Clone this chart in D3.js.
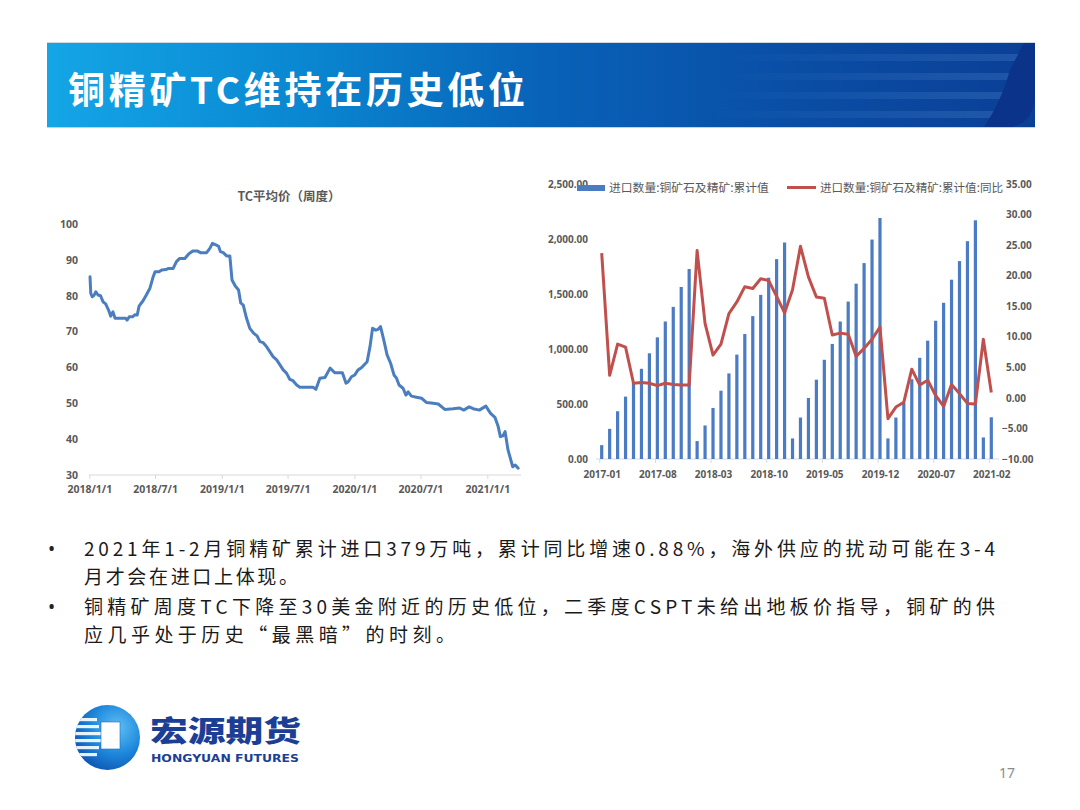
<!DOCTYPE html>
<html><head><meta charset="utf-8">
<script src="https://cdn.jsdelivr.net/npm/d3@7"></script>
<style>body{margin:0;background:#fff;} svg{display:block;}</style>
</head><body><svg id="c" width="1080" height="810"></svg>
<script>
// ---------------- DATA ----------------
const pageTitle = "铜精矿TC维持在历史低位";
const leftTitle = "TC平均价（周度）";
const tcDates = ["2018-01-03","2018-01-05","2018-01-09","2018-01-14","2018-01-19","2018-01-25","2018-02-01","2018-02-08","2018-02-15","2018-02-23","2018-03-01","2018-03-07","2018-03-13","2018-04-11","2018-04-15","2018-04-21","2018-04-30","2018-05-07","2018-05-13","2018-05-18","2018-05-29","2018-06-07","2018-06-17","2018-06-26","2018-07-01","2018-07-12","2018-07-20","2018-07-31","2018-08-07","2018-08-20","2018-08-29","2018-09-07","2018-09-21","2018-10-03","2018-10-14","2018-10-25","2018-11-03","2018-11-20","2018-11-29","2018-12-06","2018-12-17","2018-12-23","2018-12-28","2019-01-05","2019-01-14","2019-01-23","2019-01-29","2019-02-07","2019-02-16","2019-02-22","2019-03-01","2019-03-10","2019-03-19","2019-03-30","2019-04-08","2019-04-16","2019-04-25","2019-05-04","2019-05-13","2019-05-22","2019-06-01","2019-06-10","2019-06-19","2019-06-28","2019-07-07","2019-07-16","2019-07-26","2019-08-04","2019-09-09","2019-09-17","2019-09-28","2019-10-12","2019-10-26","2019-11-08","2019-11-29","2019-12-09","2019-12-15","2019-12-24","2020-01-02","2020-01-11","2020-01-21","2020-02-05","2020-02-13","2020-02-20","2020-02-29","2020-03-06","2020-03-13","2020-03-22","2020-03-31","2020-04-10","2020-04-19","2020-04-26","2020-05-03","2020-05-14","2020-05-22","2020-05-28","2020-06-06","2020-06-20","2020-07-04","2020-07-18","2020-08-05","2020-08-19","2020-09-06","2020-09-29","2020-10-17","2020-10-28","2020-11-12","2020-11-23","2020-12-10","2020-12-28","2021-01-10","2021-01-22","2021-01-31","2021-02-06","2021-02-13","2021-02-19","2021-02-27","2021-03-12","2021-03-19","2021-03-27"];
const tcValues = [85.3,80.7,79.7,80.1,81.1,80.2,80.0,78.3,77.7,76.0,74.3,75.5,73.7,73.7,73.2,74.1,74.1,74.7,74.6,77.1,78.6,80.2,82.1,85.3,86.7,86.7,87.2,87.3,87.6,87.6,89.5,90.4,90.4,91.8,92.5,92.5,92.0,92.0,93.2,94.6,94.1,93.8,92.3,92.0,91.1,91.1,84.4,82.7,81.6,78.0,77.4,73.7,70.9,69.5,68.8,67.2,66.9,65.8,64.4,63.0,62.1,60.7,59.3,58.4,56.7,56.3,55.1,54.5,54.5,53.9,57.0,57.2,59.8,58.5,58.5,55.6,56.0,57.4,57.9,59.3,60.0,61.6,65.8,70.9,70.4,70.6,71.4,67.6,63.5,61.1,57.9,57.0,55.1,54.2,52.3,53.2,52.0,51.7,51.4,50.2,50.0,49.8,48.3,48.5,48.7,48.1,49.0,48.5,48.1,49.2,47.2,46.1,43.5,40.7,40.9,42.1,37.0,32.3,32.8,31.9];
const tcYTicks = [30,40,50,60,70,80,90,100];
const tcXTicks = ["2018-01-01","2018-07-01","2019-01-01","2019-07-01","2020-01-01","2020-07-01","2021-01-01"];

const months = ["2017-01","2017-02","2017-03","2017-04","2017-05","2017-06","2017-07","2017-08","2017-09","2017-10","2017-11","2017-12",
"2018-01","2018-02","2018-03","2018-04","2018-05","2018-06","2018-07","2018-08","2018-09","2018-10","2018-11","2018-12",
"2019-01","2019-02","2019-03","2019-04","2019-05","2019-06","2019-07","2019-08","2019-09","2019-10","2019-11","2019-12",
"2020-01","2020-02","2020-03","2020-04","2020-05","2020-06","2020-07","2020-08","2020-09","2020-10","2020-11","2020-12",
"2021-01","2021-02"];
const imports2017 = [126,274,434,567,700,820,961,1106,1250,1383,1564,1727];
const imports2018 = [163,305,464,621,778,949,1136,1299,1492,1648,1817,1968];
const imports2019 = [187,377,555,721,902,1046,1250,1431,1594,1781,1995,2191];
const imports2020 = [187,377,510,725,920,1076,1257,1420,1630,1799,1980,2170];
const imports2021 = [196,379];
const yoy2017 = [23.7,3.7,8.8,8.3,2.4,2.5,2.4,2.0,2.4,2.2,2.1,2.1];
const yoy2018 = [24.1,12.2,7.0,8.8,13.8,15.7,18.2,17.9,19.5,19.2,16.6,13.9];
const yoy2019 = [17.7,24.8,19.8,16.5,16.3,10.3,10.6,10.4,6.8,8.1,9.6,11.6];
const yoy2020 = [-3.4,-1.5,-0.7,4.7,2.1,2.9,0.4,-1.4,2.2,0.7,-0.9,-1.0];
const yoy2021 = [9.6,0.88];
const importTicks = [0,500,1000,1500,2000,2500];
const yoyTicks = [-10,-5,0,5,10,15,20,25,30,35];
const monthTickLabels = ["2017-01","2017-08","2018-03","2018-10","2019-05","2019-12","2020-07","2021-02"];
const legendNames = ["进口数量:铜矿石及精矿:累计值","进口数量:铜矿石及精矿:累计值:同比"];

const bulletLines = [
  ["2021年1-2月铜精矿累计进口379万吨，累计同比增速0.88%，海外供应的扰动可能在3-4", "月才会在进口上体现。"],
  ["铜精矿周度TC下降至30美金附近的历史低位，二季度CSPT未给出地板价指导，铜矿的供", "应几乎处于历史“最黑暗”的时刻。"]
];
const logoCn = "宏源期货";
const logoEn = "HONGYUAN FUTURES";
const pageNumber = "17";

// ---------------- DRAW ----------------
const svg = d3.select("#c");
const defs = svg.append("defs");
const CJK = "'Noto Sans CJK SC','Noto Sans',sans-serif";
const NUM = "'Noto Sans','DejaVu Sans',sans-serif";
const gray = "#595959";

// Banner
const bg = defs.append("linearGradient").attr("id","bannerGrad").attr("x1",0).attr("x2",1).attr("y1",0).attr("y2",0);
[[0,"#14a6e6"],[0.25,"#0a88d2"],[0.5,"#0863b8"],[0.75,"#0a4ea6"],[1,"#0b3f96"]].forEach(s=>bg.append("stop").attr("offset",s[0]).attr("stop-color",s[1]));
const sg = defs.append("linearGradient").attr("id","stripeGrad").attr("x1",0).attr("x2",1);
[[0,0],[0.45,0.0],[1,0.16]].forEach(s=>sg.append("stop").attr("offset",s[0]).attr("stop-color","#8fc6ff").attr("stop-opacity",s[1]));
svg.append("rect").attr("x",47).attr("y",42).attr("width",988).attr("height",1).attr("fill","#d0d8e4");
svg.append("rect").attr("x",47).attr("y",43).attr("width",988).attr("height",84).attr("fill","url(#bannerGrad)");
[54,73,92,111].forEach((y,i)=>{
  svg.append("rect").attr("x",480).attr("y",y).attr("width",545-i*9).attr("height",7).attr("fill","url(#stripeGrad)");
});
svg.append("path").attr("d","M1024,43 L1035,43 L1035,98 Q1033,122 1012,127 L984,127 Q1002,100 1010,70 Z").attr("fill","#0c338a");
svg.append("rect").attr("x",47).attr("y",127).attr("width",988).attr("height",1).attr("fill","#c8d0dc");
svg.append("text").attr("x",68).attr("y",104).attr("font-family",CJK).attr("font-weight",700)
  .attr("font-size",37).attr("fill","#fff").attr("textLength",457).attr("lengthAdjust","spacing").text(pageTitle);

// -------- Left chart (TC) --------
const parse = d3.timeParse("%Y-%m-%d");
const tcData = tcDates.map((d,i)=>({date:parse(d), v:tcValues[i]}));
const xL = d3.scaleTime().domain([parse("2018-01-01"), parse("2021-01-01")]).range([89.3, 487.3]);
const yL = d3.scaleLinear().domain([30,100]).range([475,224]);
const gL = svg.append("g");
gL.append("text").attr("x",289).attr("y",201).attr("text-anchor","middle").attr("font-family",CJK)
  .attr("font-weight",700).attr("font-size",12.5).attr("fill",gray).text(leftTitle);
gL.append("line").attr("x1",89).attr("x2",521).attr("y1",yL(30)).attr("y2",yL(30)).attr("stroke","#d9d9d9").attr("stroke-width",1);
const xAxisL = d3.axisBottom(xL).tickValues(tcXTicks.map(parse)).tickFormat(d3.timeFormat("%Y/%-m/%-d")).tickSize(4).tickSizeOuter(0);
const gxL = gL.append("g").attr("transform",`translate(0,${yL(30)})`).call(xAxisL);
gxL.select(".domain").remove();
gxL.selectAll("line").attr("stroke","#d9d9d9");
gxL.selectAll("text").attr("font-family",NUM).attr("font-weight",700).attr("font-size",10.5).attr("fill",gray).attr("dy","0.95em").attr("y",8);
const yAxisL = d3.axisLeft(yL).tickValues(tcYTicks).tickSize(0).tickPadding(0);
const gyL = gL.append("g").attr("transform","translate(78,0)").call(yAxisL);
gyL.select(".domain").remove();
gyL.selectAll("text").attr("font-family",NUM).attr("font-weight",700).attr("font-size",10.5).attr("fill",gray);
gL.append("path").datum(tcData).attr("fill","none").attr("stroke","#4a7ebf").attr("stroke-width",3)
  .attr("stroke-linejoin","round").attr("stroke-linecap","round")
  .attr("d", d3.line().x(d=>xL(d.date)).y(d=>yL(d.v)));

// -------- Right chart (imports) --------
const importsAll = [].concat(imports2017,imports2018,imports2019,imports2020,imports2021);
const yoyAll = [].concat(yoy2017,yoy2018,yoy2019,yoy2020,yoy2021);
const rData = months.map((m,i)=>({m, imp:importsAll[i], yoy:yoyAll[i]}));
const xR = d3.scalePoint().domain(months).range([601.7, 991.3]);
const yR1 = d3.scaleLinear().domain([0,2500]).range([459,184]);
const yR2 = d3.scaleLinear().domain([-10,35]).range([459,184]);
const gR = svg.append("g");
gR.append("line").attr("x1",596).attr("x2",999).attr("y1",yR1(0)).attr("y2",yR1(0)).attr("stroke","#d9d9d9");
const xAxisR = d3.axisBottom(xR).tickValues(monthTickLabels).tickSize(4).tickSizeOuter(0);
const gxR = gR.append("g").attr("transform",`translate(0,${yR1(0)})`).call(xAxisR);
gxR.select(".domain").remove();
gxR.selectAll(".tick line").attr("stroke","#d9d9d9").attr("transform","translate(-2.4,0)");
gxR.selectAll("text").attr("font-family",NUM).attr("font-weight",700).attr("font-size",10).attr("fill",gray).attr("y",9).attr("dy","0.95em");
const yAxisR1 = d3.axisLeft(yR1).tickValues(importTicks).tickFormat(d3.format(",.2f")).tickSize(0).tickPadding(0);
const gy1 = gR.append("g").attr("transform","translate(588,0)").call(yAxisR1);
gy1.select(".domain").remove();
gy1.selectAll("text").attr("font-family",NUM).attr("font-weight",700).attr("font-size",10).attr("fill",gray);
const yAxisR2 = d3.axisRight(yR2).tickValues(yoyTicks).tickFormat(d3.format(".2f")).tickSize(0).tickPadding(0);
const gy2 = gR.append("g").attr("transform","translate(1005,0)").call(yAxisR2);
gy2.select(".domain").remove();
gy2.selectAll("text").attr("font-family",NUM).attr("font-weight",700).attr("font-size",10).attr("fill",gray)
  .attr("x",d=>d<0?-3:1);
// bars
gR.selectAll("rect.bar").data(rData).enter().append("rect").attr("class","bar")
  .attr("x",d=>xR(d.m)-1.6).attr("width",3.2)
  .attr("y",d=>yR1(d.imp)).attr("height",d=>yR1(0)-yR1(d.imp)).attr("fill","#4a7bc3");
// line
gR.append("path").datum(rData).attr("fill","none").attr("stroke","#c0504d").attr("stroke-width",3)
  .attr("stroke-linejoin","round")
  .attr("d", d3.line().x(d=>xR(d.m)).y(d=>yR2(d.yoy)));
// legend
gR.append("rect").attr("x",577).attr("y",185).attr("width",28).attr("height",6).attr("fill","#4a7bc3");
gR.append("text").attr("x",609).attr("y",192).attr("font-family",CJK).attr("font-size",11.8).attr("fill",gray).text(legendNames[0]);
gR.append("line").attr("x1",787).attr("x2",816).attr("y1",187.5).attr("y2",187.5).attr("stroke","#c0504d").attr("stroke-width",3);
gR.append("text").attr("x",820).attr("y",192).attr("font-family",CJK).attr("font-size",11.8).attr("fill",gray)
  .attr("textLength",183).attr("lengthAdjust","spacingAndGlyphs").text(legendNames[1]);

// -------- Bullets --------
const bY = [[556,584],[614,642]];
const bW = [[911,214],[911,371]];
bulletLines.forEach((pair,i)=>{
  svg.append("text").attr("x",48).attr("y",bY[i][0]).attr("font-family",NUM).attr("font-size",19).attr("fill","#222").text("•");
  pair.forEach((line,j)=>{
    svg.append("text").attr("x",84).attr("y",bY[i][j]).attr("font-family",CJK).attr("font-size",19).attr("fill","#1a1a1a")
      .attr("textLength",bW[i][j]).attr("lengthAdjust","spacing").text(line);
  });
});

// -------- Logo --------
const lg = defs.append("radialGradient").attr("id","logoGrad").attr("cx","0.65").attr("cy","0.35").attr("r","0.8");
[[0,"#5fc0f5"],[0.5,"#1e88dc"],[1,"#0a4aa8"]].forEach(s=>lg.append("stop").attr("offset",s[0]).attr("stop-color",s[1]));
defs.append("clipPath").attr("id","logoClip").append("circle").attr("cx",107.5).attr("cy",737.5).attr("r",32.5);
const gLogo = svg.append("g");
gLogo.append("circle").attr("cx",107.5).attr("cy",737.5).attr("r",32.5).attr("fill","url(#logoGrad)");
const gs = gLogo.append("g").attr("clip-path","url(#logoClip)");
[718,725,732,739,746,753].forEach((y,i)=>{
  gs.append("rect").attr("x",70).attr("y",y).attr("width",32 - Math.abs(i-2.5)*2).attr("height",3.2).attr("fill","#fff").attr("opacity",0.9);
});
gLogo.append("rect").attr("x",101).attr("y",722).attr("width",19).attr("height",27).attr("fill","#fff");
gLogo.append("rect").attr("x",101).attr("y",722).attr("width",19).attr("height",27).attr("fill","none").attr("stroke","#1a70c8").attr("stroke-width",0.6);
gLogo.append("text").attr("x",150).attr("y",742).attr("font-family",CJK).attr("font-weight",900).attr("font-size",29)
  .attr("fill","#1c3f95").attr("textLength",151).attr("lengthAdjust","spacingAndGlyphs").text(logoCn);
gLogo.append("text").attr("x",151).attr("y",762).attr("font-family","'DejaVu Sans',sans-serif").attr("font-weight",700).attr("font-size",11)
  .attr("fill","#1c3f95").attr("textLength",148).attr("lengthAdjust","spacingAndGlyphs").text(logoEn);

svg.append("text").attr("x",1015).attr("y",778).attr("text-anchor","end").attr("font-family",NUM).attr("font-size",14).attr("fill","#8c8c8c").text(pageNumber);
</script></body></html>
